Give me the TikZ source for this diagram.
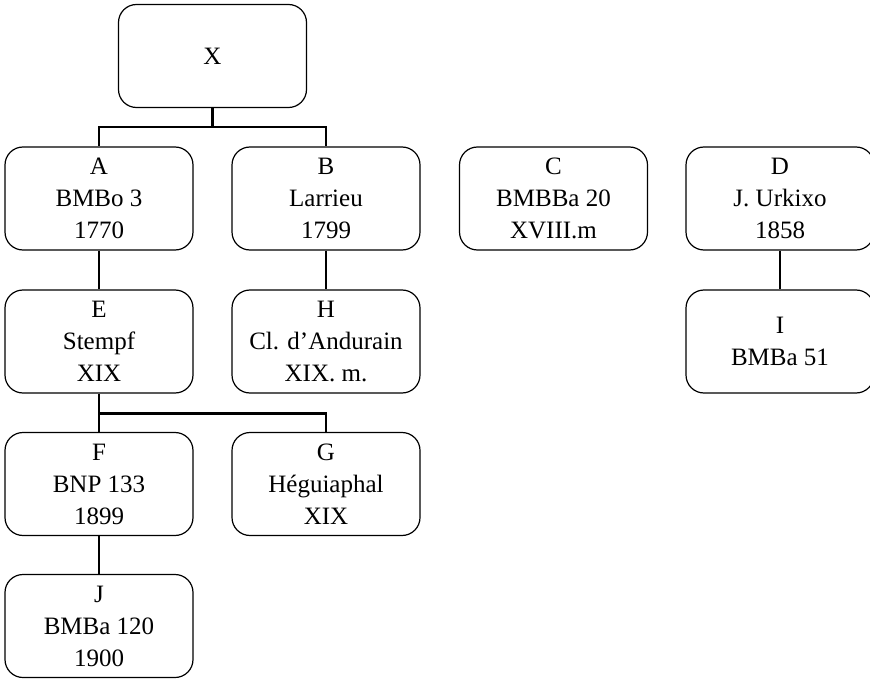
\documentclass[tikz,border=0pt]{standalone}
\usepackage{fontspec}
\setmainfont{Liberation Serif}
\usepackage{tikz}
\usetikzlibrary{positioning,calc}

\begin{document}
\begin{tikzpicture}[
    x=1pt, y=-1pt,
    ms/.style={draw, line width=1.2pt, rounded corners=18pt, minimum width=188pt, minimum height=103pt, align=center, inner sep=2pt, font=\fontsize{25}{32}\selectfont},
    link/.style={line width=2.6pt}
]
\useasboundingbox (0,0) rectangle (870,679);

\node[ms] (X) at (212.5,56) {X};
\node[ms] (A) at (99,198.5) {A\\BMBo 3\\1770};
\node[ms] (B) at (326,198.5) {B\\Larrieu\\1799};
\node[ms] (C) at (553.5,198.5) {C\\BMBBa 20\\XVIII.m};
\node[ms] (D) at (780,198.5) {D\\J. Urkixo\\1858};
\node[ms] (E) at (99,341.5) {E\\Stempf\\XIX};
\node[ms] (H) at (326,341.5) {H\\Cl. d’Andurain\\XIX. m.};
\node[ms] (I) at (780,341.5) {I\\BMBa 51};
\node[ms] (F) at (99,484) {F\\BNP 133\\1899};
\node[ms] (G) at (326,484) {G\\Héguiaphal\\XIX};
\node[ms] (J) at (99,626) {J\\BMBa 120\\1900};

% stemma links
\draw[link] (X.south) -- ++(0,19) -| (A.north);
\draw[link] (X.south) -- ++(0,19) -| (B.north);
\draw[link] (A) -- (E);
\draw[link] (B) -- (H);
\draw[link] (D) -- (I);
\draw[link] (E.south) -- ++(0,20) -| (F.north);
\draw[link] (E.south) -- ++(0,20) -| (G.north);
\draw[link] (F) -- (J);
\end{tikzpicture}
\end{document}
